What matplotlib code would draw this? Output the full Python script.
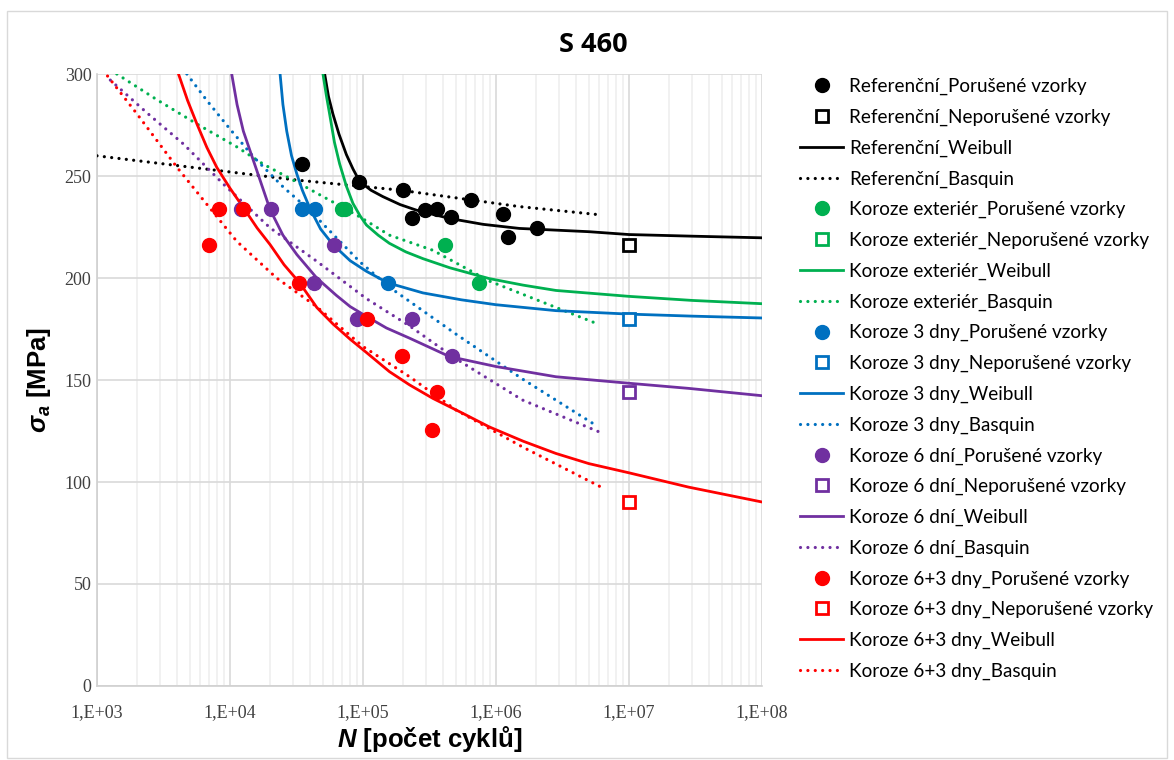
import matplotlib
matplotlib.use("Agg")
import matplotlib.pyplot as plt
from matplotlib.patches import Rectangle
from matplotlib.ticker import LogLocator, FixedLocator, NullFormatter

plt.rcParams['mathtext.fontset'] = 'custom'
plt.rcParams['mathtext.bfit'] = 'Liberation Sans:italic:bold'
plt.rcParams['mathtext.it'] = 'Liberation Sans:italic'
plt.rcParams['mathtext.bf'] = 'Liberation Sans:bold'
plt.rcParams['mathtext.rm'] = 'Liberation Sans'

# ---------------------------------------------------------------------------
# data
# ---------------------------------------------------------------------------
groups = ["Referenční", "Koroze exteriér", "Koroze 3 dny", "Koroze 6 dní", "Koroze 6+3 dny"]
colors = ["#000000", "#00B050", "#0070C0", "#7030A0", "#FF0000"]

# Referenční
ref_fail_N = [35000, 93000, 201000, 232000, 292000, 358000, 459000, 646000, 1.12e6, 1.24e6, 2.02e6]
ref_fail_S = [256, 247, 243, 229.5, 233.5, 234, 230, 238, 231.5, 220, 224.5]
ref_run_N = [1e7]
ref_run_S = [216]
ref_wb_N = [51500, 55000, 59400, 66000, 75000, 84000, 94400, 115000, 141000, 190000, 251000,
            447000, 800000, 1.5e6, 5e6, 1e7, 3e7, 1e8]
ref_wb_S = [300, 289, 280.4, 270.5, 260.5, 253.5, 247.3, 243, 239.9, 236, 233.3,
            229.2, 226.3, 224.3, 222.7, 221.3, 220.5, 219.7]
ref_bq_N = [1000, 31800, 188000, 1.5e6, 5.6e6]
ref_bq_S = [259.9, 248, 243.1, 235, 231.2]

# Koroze exteriér
ext_fail_N = [69000, 73000, 410000, 750000]
ext_fail_S = [234, 234, 216, 197.5]
ext_run_N = []
ext_run_S = []
ext_wb_N = [50000, 53000, 56100, 61000, 66700, 75000, 84000, 95000, 106000, 130000, 158000,
            210000, 282000, 450000, 891000, 1.6e6, 2.82e6, 1e7, 3e7, 1e8]
ext_wb_S = [300, 289.5, 280.4, 266.5, 256, 245, 236.6, 230.5, 226, 221, 217,
            212.8, 209.5, 205, 199.7, 196.5, 193.9, 191, 189, 187.4]
ext_bq_N = [1410, 2820, 5640, 11240, 17800, 31800, 94400, 158000, 335000, 891000, 5.6e6]
ext_bq_S = [300, 287.4, 275.5, 264.3, 255.8, 247, 230, 221, 213.6, 198.5, 177.9]

# Koroze 3 dny
d3_fail_N = [35000, 43500, 155000]
d3_fail_S = [234, 234, 197.5]
d3_run_N = [1e7]
d3_run_S = [180]
d3_wb_N = [23800, 25000, 26700, 29000, 31800, 35000, 40000, 48000, 59400, 80000, 106000,
           154000, 282000, 550000, 1e6, 2.82e6, 1e7, 3e7, 1e8]
d3_wb_S = [300, 285, 272, 260, 251, 243, 234, 224, 216.4, 208.5, 203.3,
           197.6, 192.7, 189.3, 186.9, 184, 182.3, 181.3, 180.4]
d3_bq_N = [4740, 6700, 10000, 15000, 25200, 40000, 94400, 158000, 500000, 1.58e6, 5.6e6]
d3_bq_S = [300, 287, 273, 259.4, 244.5, 233, 208, 195.5, 172.5, 150.5, 127.9]

# Koroze 6 dní
d6_fail_N = [12000, 20500, 43000, 61000, 90000, 232000, 470000]
d6_fail_S = [234, 234, 197.5, 216, 180, 180, 162]
d6_run_N = [1e7]
d6_run_S = [144]
d6_wb_N = [10300, 11300, 12600, 15900, 20000, 25000, 31800, 44900, 63000, 80000, 106000,
           150000, 224000, 447000, 1e6, 2.82e6, 1e7, 2.8e7, 1e8]
d6_wb_S = [300, 285, 272, 252.7, 233.6, 221, 211.5, 200, 191.5, 186, 181.2,
           175.5, 170.5, 161.5, 156.6, 151.6, 148.4, 145.9, 142.3]
d6_bq_N = [1260, 2370, 4480, 8930, 20000, 44900, 106000, 224000, 500000, 1.58e6, 6.2e6]
d6_bq_S = [297, 281, 265.6, 246, 224.6, 208.2, 189.9, 176.5, 160.4, 140.2, 124.1]

# Koroze 6+3 dny
d63_fail_N = [6900, 8300, 12600, 33000, 107000, 195000, 332000, 358000]
d63_fail_S = [216, 234, 234, 197.5, 180, 162, 125.5, 144]
d63_run_N = [1e7]
d63_run_S = [90]
d63_wb_N = [4100, 4800, 5640, 6700, 7960, 10000, 12600, 16000, 20000, 25500, 33400, 45000,
            59400, 80000, 106000, 158000, 224000, 335000, 550000, 891000, 1.6e6, 2.82e6,
            5e6, 1e7, 2.8e7, 1e8]
d63_wb_S = [300, 287, 275.5, 264, 254.2, 244, 234.5, 224.5, 216.4, 206.5, 197.6, 185.5,
            177.5, 170, 163.5, 154.1, 147.6, 141, 134, 127, 120, 114,
            109, 104.5, 97.5, 90.2]
d63_bq_N = [1200, 2000, 4000, 6700, 11240, 22400, 44500, 100000, 224000, 500000, 1.58e6, 6.3e6]
d63_bq_S = [299, 280.4, 254.2, 236.1, 218, 200, 186.1, 166.4, 151.6, 135.3, 117.2, 97.2]

series = [
    (ref_fail_N, ref_fail_S, ref_run_N, ref_run_S, ref_wb_N, ref_wb_S, ref_bq_N, ref_bq_S),
    (ext_fail_N, ext_fail_S, ext_run_N, ext_run_S, ext_wb_N, ext_wb_S, ext_bq_N, ext_bq_S),
    (d3_fail_N, d3_fail_S, d3_run_N, d3_run_S, d3_wb_N, d3_wb_S, d3_bq_N, d3_bq_S),
    (d6_fail_N, d6_fail_S, d6_run_N, d6_run_S, d6_wb_N, d6_wb_S, d6_bq_N, d6_bq_S),
    (d63_fail_N, d63_fail_S, d63_run_N, d63_run_S, d63_wb_N, d63_wb_S, d63_bq_N, d63_bq_S),
]

x_ticks = [1e3, 1e4, 1e5, 1e6, 1e7, 1e8]
x_ticklabels = ["1,E+03", "1,E+04", "1,E+05", "1,E+06", "1,E+07", "1,E+08"]
y_ticks = [0, 50, 100, 150, 200, 250, 300]

# ---------------------------------------------------------------------------
# figure
# ---------------------------------------------------------------------------
fig = plt.figure(figsize=(11.74, 7.6), dpi=100)
ax = fig.add_axes([97 / 1174, 1 - 686 / 760, 665 / 1174, 612 / 760])

dot = (0, (0.01, 2.3))
for g, c, (fN, fS, rN, rS, wN, wS, bN, bS) in zip(groups, colors, series):
    ax.plot(fN, fS, 'o', color=c, ms=10, mec=c, label=f"{g}_Porušené vzorky", zorder=4)
    ax.plot(rN, rS, 's', color=c, ms=8, mfc='white', mec=c, mew=2,
            label=f"{g}_Neporušené vzorky", zorder=4)
    ax.plot(wN, wS, '-', color=c, lw=2, label=f"{g}_Weibull", zorder=3,
            solid_joinstyle='round')
    ax.plot(bN, bS, linestyle=dot, color=c, lw=2.3, dash_capstyle='round',
            label=f"{g}_Basquin", zorder=3)

ax.set_xscale('log')
ax.set_xlim(1e3, 1e8)
ax.set_ylim(0, 300)
ax.xaxis.set_major_locator(FixedLocator(x_ticks))
ax.set_xticklabels(x_ticklabels)
ax.xaxis.set_minor_locator(LogLocator(base=10, subs=range(2, 10)))
ax.xaxis.set_minor_formatter(NullFormatter())
ax.set_yticks(y_ticks)

ax.grid(True, which='major', color='#d9d9d9', lw=1.2, zorder=0)
ax.grid(True, which='minor', axis='x', color='#efefef', lw=1.2, zorder=0)
ax.set_axisbelow(True)
for s in ['top', 'right']:
    ax.spines[s].set_visible(False)
for s in ['left', 'bottom']:
    ax.spines[s].set_color('#d0d0d0')
    ax.spines[s].set_linewidth(1.2)
ax.tick_params(which='both', length=0, labelsize=13, labelcolor='#404040')
ax.tick_params(axis='x', pad=13)
ax.tick_params(axis='y', pad=4)
for lab in ax.get_xticklabels() + ax.get_yticklabels():
    lab.set_family('Liberation Serif')

ax.set_xlabel(r'$\mathbfit{N}$ [počet cyklů]', fontsize=18.5, fontweight='bold',
              family='Liberation Sans', labelpad=2)
ax.set_ylabel(r'$\mathbfit{\sigma_a}$ [MPa]', fontsize=18.5, fontweight='bold',
              family=['Liberation Sans', 'DejaVu Sans'], labelpad=8)

fig.text(0.505, 1 - 45 / 760, "S 460", ha='center', va='center', fontsize=19.5,
         fontweight='bold', family='Open Sans')

leg = ax.legend(loc='upper left', bbox_to_anchor=(800 / 1174, 1 - 78 / 760),
                bbox_transform=fig.transFigure, frameon=False,
                prop={'family': 'Lato', 'size': 13.6}, labelspacing=0.715,
                handlelength=2.3, handletextpad=0.3, borderaxespad=0, borderpad=0)

fig.patches.append(Rectangle((7 / 1174, 0.002), 1160 / 1174, 1 - 10.5 / 760 - 0.002,
                             transform=fig.transFigure, fill=False,
                             edgecolor='#d9d9d9', lw=1))

fig.savefig("out.png", dpi=100)
